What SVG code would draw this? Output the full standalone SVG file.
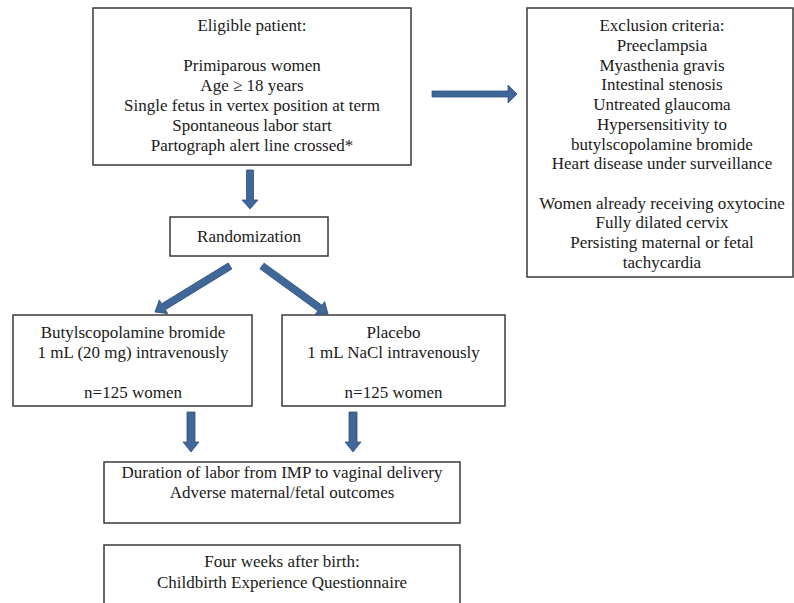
<svg xmlns="http://www.w3.org/2000/svg" width="794" height="603" viewBox="0 0 794 603">
<style>
.box{fill:#fff;stroke:#3a3a3a;stroke-width:1.5}
text{font-family:"Liberation Serif","Times New Roman",serif;font-size:17px;fill:#1a1a1a;text-anchor:middle}
.arr{fill:#3f6797;stroke:#2f5282;stroke-width:0.8}
</style>
<rect width="794" height="603" fill="#fff"/>
<g id="eligible">
<rect class="box" x="93" y="8" width="318" height="157"/>
<text x="252" y="31">Eligible patient:</text>
<text x="252" y="70.5">Primiparous women</text>
<text x="252" y="90.5">Age ≥ 18 years</text>
<text x="252" y="110.5">Single fetus in vertex position at term</text>
<text x="252" y="130.5">Spontaneous labor start</text>
<text x="252" y="150.5">Partograph alert line crossed*</text>
</g>
<g id="exclusion">
<rect class="box" x="527" y="8" width="266" height="269"/>
<text x="662" y="31">Exclusion criteria:</text>
<text x="662" y="50.5">Preeclampsia</text>
<text x="662" y="70.5">Myasthenia gravis</text>
<text x="662" y="90">Intestinal stenosis</text>
<text x="662" y="110">Untreated glaucoma</text>
<text x="662" y="129.5">Hypersensitivity to</text>
<text x="662" y="149.5">butylscopolamine bromide</text>
<text x="662" y="169">Heart disease under surveillance</text>
<text x="662" y="208.5">Women already receiving oxytocine</text>
<text x="662" y="228">Fully dilated cervix</text>
<text x="662" y="248">Persisting maternal or fetal</text>
<text x="662" y="268">tachycardia</text>
</g>
<g id="randomization">
<rect class="box" x="170" y="217" width="158" height="39"/>
<text x="249" y="242">Randomization</text>
</g>
<g id="treatment">
<rect class="box" x="13" y="315" width="239" height="91"/>
<text x="133" y="338">Butylscopolamine bromide</text>
<text x="133" y="358">1 mL (20 mg) intravenously</text>
<text x="133" y="398">n=125 women</text>
</g>
<g id="placebo">
<rect class="box" x="282" y="315" width="223" height="91"/>
<text x="393.5" y="338">Placebo</text>
<text x="393.5" y="358">1 mL NaCl intravenously</text>
<text x="393.5" y="398">n=125 women</text>
</g>
<g id="outcomes">
<rect class="box" x="104" y="462" width="356" height="61"/>
<text x="282" y="478">Duration of labor from IMP to vaginal delivery</text>
<text x="282" y="498">Adverse maternal/fetal outcomes</text>
</g>
<g id="followup">
<rect class="box" x="104" y="545" width="356" height="70"/>
<text x="282" y="567">Four weeks after birth:</text>
<text x="282" y="588">Childbirth Experience Questionnaire</text>
</g>
<g id="connectors">
<polygon class="arr" transform="translate(250,170) rotate(90)" points="0,-3.5 30,-3.5 30,-8 39,0 30,8 30,3.5 0,3.5"/>
<polygon class="arr" transform="translate(432,94)" points="0,-3 76,-3 76,-9 85,0 76,9 76,3 0,3"/>
<polygon class="arr" transform="translate(230,266) rotate(148.5)" points="0,-3.5 78,-3.5 78,-8 88,0 78,8 78,3.5 0,3.5"/>
<polygon class="arr" transform="translate(262,266) rotate(36)" points="0,-3.5 71.6,-3.5 71.6,-8 81.6,0 71.6,8 71.6,3.5 0,3.5"/>
<polygon class="arr" transform="translate(191,412) rotate(90)" points="0,-4 30,-4 30,-8 40,0 30,8 30,4 0,4"/>
<polygon class="arr" transform="translate(353,412) rotate(90)" points="0,-4 30,-4 30,-8 40,0 30,8 30,4 0,4"/>
</g>
</svg>
